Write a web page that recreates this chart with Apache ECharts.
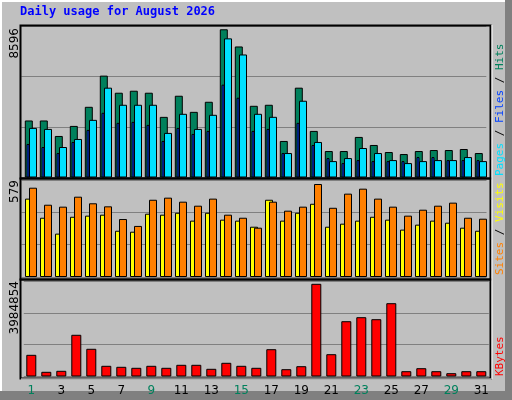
<!DOCTYPE html>
<html><head><meta charset="utf-8">
<script src="https://cdn.jsdelivr.net/npm/echarts@6/dist/echarts.min.js"></script>
<style>html,body{margin:0;padding:0;background:#c0c0c0}#c{width:512px;height:400px}</style>
</head><body><div id="c"></div>
<script>
const days = ['1','2','3','4','5','6','7','8','9','10','11','12','13','14','15','16','17','18','19','20','21','22','23','24','25','26','27','28','29','30','31'];
const weekend = ['1','2','8','9','15','16','22','23','29','30'];
const hits = [3307,3307,2409,2992,4100,5908,4917,5033,4917,3517,4742,3808,4392,8596,7600,4158,4218,2119,5210,2702,1536,1536,2353,1886,1478,1361,1536,1594,1594,1653,1419];
const pages = [2877,2818,1769,2235,3344,5210,4218,4218,4218,2586,3694,2818,3636,8070,7135,3694,3519,1419,4452,2061,951,1127,1711,1419,1010,836,951,1010,1010,1186,951];
const files = [1944,1769,1419,2061,2760,3752,3169,3227,3052,2119,2877,2527,2702,5385,4627,2702,2818,1419,3169,1886,1127,836,1010,951,951,951,1186,1186,1010,1010,1010];
const visits = [488,369,270,375,382,388,288,282,394,388,400,351,400,357,351,313,481,351,400,456,313,332,351,375,357,295,326,351,338,307,288];
const sites = [556,450,438,500,459,440,361,318,481,494,469,444,488,388,369,307,469,413,438,579,431,519,550,488,438,382,419,444,463,369,363];
const kbytes = [932000,202000,245000,1793000,1191000,460000,417000,374000,460000,374000,503000,503000,331000,589000,460000,374000,1174000,314000,443000,3984854,959000,2377000,2549000,2463000,3151000,228000,357000,228000,142000,228000,228000];
const maxLabels = ['8596','579','3984854'];

const P = [{top:26,h:151.5,max:8787},{top:180,h:97,max:604},{top:281,h:95.5,max:4105219}];
const BASEL = 25.5, W = 465;
function grid(p,off){return {left:BASEL+off,top:P[p].top,width:W,height:P[p].h};}
const specs = [
 {p:0,off:-4.2,w:8,data:hits,color:'#00805c',split:true},
 {p:0,off:-5,w:3,data:files,color:'#0040ff'},
 {p:0,off:0,w:8,data:pages,color:'#00e0ff'},
 {p:1,off:-4,w:8,data:visits,color:'#ffff00',split:true},
 {p:1,off:0,w:8,data:sites,color:'#ff8000'},
 {p:2,off:-1.7,w:10,data:kbytes,color:'#ff0000',split:true,labels:true}
];
const grids=[],xAxes=[],yAxes=[],series=[];
specs.forEach((s,i)=>{
 grids.push(grid(s.p,s.off));
 xAxes.push({type:'category',gridIndex:i,data:days,axisLine:{show:false},axisTick:{show:false},
  axisLabel:{show:!!s.labels,margin:8,fontFamily:'DejaVu Sans',fontSize:12,
   color:(v)=>weekend.includes(v)?'#00805c':'#000'}});
 yAxes.push({type:'value',gridIndex:i,min:0,max:P[s.p].max,interval:P[s.p].max/3,axisLabel:{show:false},
  axisLine:{show:false},axisTick:{show:false},splitLine:{show:!!s.split,lineStyle:{color:'#808080',width:1}}});
 series.push({type:'bar',xAxisIndex:i,yAxisIndex:i,data:s.data,barWidth:s.w,z:2+i,silent:true,
  itemStyle:{color:s.color,borderColor:'#000',borderWidth:1}});
});
const g=[
 {type:'rect',shape:{x:505,y:0,width:7,height:400},style:{fill:'#808080'},z:-5},
 {type:'rect',shape:{x:0,y:391,width:512,height:9},style:{fill:'#808080'},z:-5},
 {type:'polyline',shape:{points:[[1,391],[1,1],[505,1]]},style:{stroke:'#fff',fill:null,lineWidth:2},z:-4},
 {type:'text',x:20,y:6,style:{text:'Daily usage for August 2026',fill:'#0000ff',font:'bold 12px "DejaVu Sans Mono"'}},
];
[[25,178],[178,279],[279,378]].forEach(([a,b])=>g.push({type:'rect',shape:{x:20.5,y:a+0.5,width:470,height:b-a},style:{fill:null,stroke:'#000',lineWidth:2},z:100}));
g.push({type:'line',shape:{x1:21,y1:379,x2:491,y2:379},style:{stroke:'#fff',lineWidth:1},z:100});
g.push({type:'line',shape:{x1:492,y1:25,x2:492,y2:379},style:{stroke:'#fff',lineWidth:1},z:100});
const labY=[28,180,281];
maxLabels.forEach((t,i)=>g.push({type:'text',x:9,y:labY[i],rotation:Math.PI/2,
 style:{text:t,fill:'#000',font:'12px "DejaVu Sans"',align:'right',verticalAlign:'top'}}));
function rtext(y,parts){g.push({type:'text',x:495,y:y,rotation:Math.PI/2,
 style:{rich:{a:{fill:parts[0][1]},b:{fill:'#000'},c:{fill:parts[1][1]},d:{fill:parts[2]?parts[2][1]:'#000'}},
  text:parts.map((p,k)=>'{'+['a','c','d'][k]+'|'+p[0]+'}').join('{b| / }'),
  font:'11px "DejaVu Sans Mono"',align:'left',verticalAlign:'top'}});}
rtext(176,[['Pages','#00e0ff'],['Files','#0040ff'],['Hits','#00805c']]);
rtext(275,[['Sites','#ff8000'],['Visits','#ffff00']]);
g.push({type:'text',x:495,y:376,rotation:Math.PI/2,style:{text:'KBytes',fill:'#ff0000',font:'11px "DejaVu Sans Mono"',align:'left',verticalAlign:'top'}});
const chart=echarts.init(document.getElementById('c'),null,{renderer:'canvas'});
chart.setOption({animation:false,backgroundColor:'#c0c0c0',grid:grids,xAxis:xAxes,yAxis:yAxes,series:series,graphic:g});
</script></body></html>
